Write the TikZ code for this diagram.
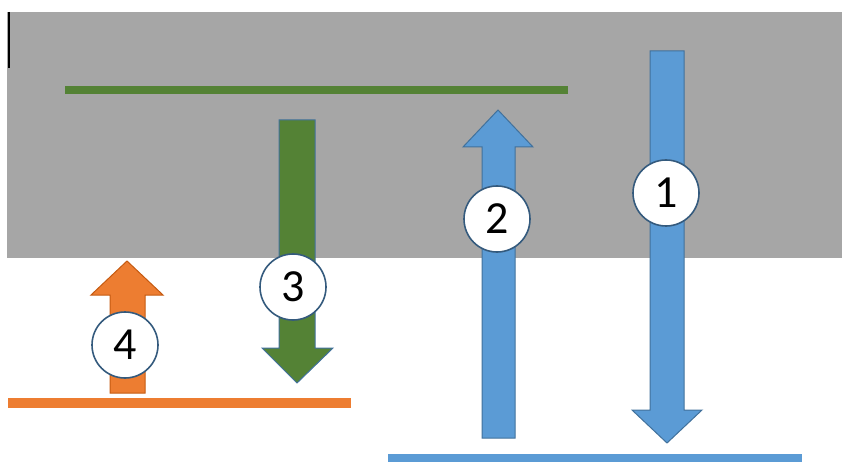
\documentclass[tikz,border=0pt]{standalone}
\usepackage{fontspec}
\setmainfont{Carlito}
\definecolor{panel}{HTML}{A6A6A6}
\definecolor{sky}{HTML}{5B9BD5}
\definecolor{skyedge}{HTML}{41719C}
\definecolor{leaf}{HTML}{548235}
\definecolor{tangerine}{HTML}{ED7D31}
\definecolor{tangedge}{HTML}{C55A11}

\begin{document}
\begin{tikzpicture}[x=1pt, y=-1pt,
  level/.style={line cap=butt},
  blockarrow/.style={line width=1pt, line join=miter},
  num/.style={circle, draw=skyedge!80!black, fill=white, line width=1.6pt,
    minimum size=66pt, inner sep=0pt,
    font=\fontsize{46}{46}\selectfont}]
  \useasboundingbox (0,0) rectangle (842,462);
  % gray band
  \fill[panel] (7,12) rectangle (842,258);
  \draw[line width=2pt] (9,12) -- (9,68);
  % levels
  \draw[level, line width=8pt, leaf] (65,90) -- (568,90);
  \draw[level, line width=10pt, tangerine] (8,403) -- (351,403);
  \draw[level, line width=9pt, sky] (388,458) -- (802,458);
  % block arrows
  \filldraw[blockarrow, fill=sky, draw=skyedge] (650,51) -- (684,51)
    -- (684,410) -- (702,410) -- (667,443) -- (632,410) -- (650,410) -- cycle;
  \filldraw[blockarrow, fill=sky, draw=skyedge] (482,438) -- (515,438)
    -- (515,147) -- (533,147) -- (498,110) -- (463,147) -- (482,147) -- cycle;
  \filldraw[blockarrow, fill=leaf, draw=skyedge] (279,120) -- (315,120)
    -- (315,348) -- (333,348) -- (297,383) -- (262,348) -- (279,348) -- cycle;
  \filldraw[blockarrow, fill=tangerine, draw=tangedge] (110,393) -- (145,393)
    -- (145,295) -- (163,295) -- (127,261) -- (91,295) -- (110,295) -- cycle;
  % step numbers
  \node[num] (n1) at (666,193) {1};
  \node[num] (n2) at (497,219) {2};
  \node[num] (n3) at (293,287) {3};
  \node[num] (n4) at (125,345) {4};
\end{tikzpicture}
\end{document}
